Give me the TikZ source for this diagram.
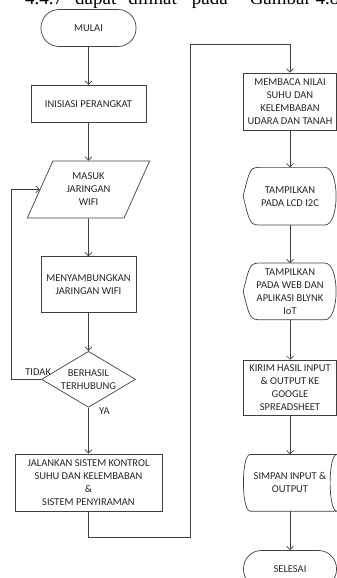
\documentclass[tikz,border=0pt]{standalone}
\usepackage{fontspec}
\setmainfont{Carlito}
\newfontfamily\captionfont{Liberation Serif}
\usetikzlibrary{positioning,shapes.geometric,arrows.meta}

\begin{document}
\begin{tikzpicture}[x=1pt, y=-1pt, node distance=38pt,
    box/.style={
        rectangle,
        draw=black!75, line width=0.7pt,
        text=black!85,
        font=\fontsize{10.5}{13}\selectfont,
        align=center,
        inner sep=2pt,
        minimum width=93pt,
        minimum height=56pt},
    terminal/.style={
        box,
        rounded corners=18pt,
        minimum height=37pt},
    inputbox/.style={
        box,
        trapezium,
        trapezium left angle=65,
        trapezium right angle=115,
        trapezium stretches=true,
        minimum width=123pt,
        minimum height=57pt},
    decision/.style={
        box,
        diamond,
        aspect=1.68,
        inner sep=0pt,
        minimum width=94pt,
        minimum height=56pt},
    shapebox/.style={
        box,
        draw=none},
    outline/.style={
        draw=black!75,
        line width=0.7pt},
    lbl/.style={
        text=black!85,
        font=\fontsize{10.5}{13}\selectfont},
    arrow/.style={
        draw=black!75,
        line width=0.7pt,
        -{Straight Barb[length=3.5pt,width=7pt]}}
    ]

    \useasboundingbox (0,0) rectangle (337,578);
    \clip (0,0) rectangle (337,578);

    \node (caption) [anchor=base west, inner sep=0pt, text=black,
        font=\captionfont\fontsize{19}{19}\selectfont] at (25,4.5)
        {4.4.7\hspace{12pt}dapat\hspace{12pt}dilihat\hspace{15pt}pada\hspace{22pt}Gambar 4.8};

    \node (mulai) [terminal, minimum width=95pt] at (88.5,28) {MULAI};
    \node (init) [box, minimum width=115pt, minimum height=37pt, below=of mulai] {INISIASI PERANGKAT};
    \node (wifi) [inputbox, below=of init] {MASUK\\JARINGAN\\WIFI};
    \node (sambung) [box, minimum width=95pt, below=of wifi] {MENYAMBUNGKAN\\JARINGAN WIFI};
    \node (cek) [decision, below=of sambung,
        label={[lbl, align=center]center:BERHASIL\\TERHUBUNG}] {};
    \node (jalan) [box, minimum width=147pt, minimum height=57pt, below=46pt of cek]
        {JALANKAN SISTEM KONTROL\\SUHU DAN KELEMBABAN\\\&\\SISTEM PENYIRAMAN};

    \node (membaca) [box, minimum height=57pt] at (290,101.5)
        {MEMBACA NILAI\\SUHU DAN\\KELEMBABAN\\UDARA DAN TANAH};
    \node (lcd) [shapebox, minimum height=57pt, below=37pt of membaca] {TAMPILKAN\\PADA LCD I2C};
    \node (web) [shapebox, below=of lcd] {TAMPILKAN\\PADA WEB DAN\\APLIKASI BLYNK\\IoT};
    \node (kirim) [box, minimum height=55pt, below=40pt of web]
        {KIRIM HASIL INPUT\\\& OUTPUT KE\\GOOGLE\\SPREADSHEET};
    \node (simpan) [shapebox, below=39pt of kirim] {SIMPAN INPUT \&\\OUTPUT};
    \node (selesai) [terminal, below=39pt of simpan] {SELESAI};

    \foreach \shp in {lcd,web}
        \draw [outline] ([xshift=19pt]\shp.north west) -- ([xshift=-12pt]\shp.north east)
            .. controls ([xshift=3pt]\shp.north east) and ([xshift=3pt]\shp.south east) .. ([xshift=-12pt]\shp.south east)
            -- ([xshift=19pt]\shp.south west)
            .. controls ([xshift=7pt]\shp.south west) .. (\shp.west)
            .. controls ([xshift=7pt]\shp.north west) .. cycle;
    \draw [outline] ([xshift=7pt]simpan.north west) -- (simpan.north east)
        .. controls ([xshift=-9pt]simpan.north east) and ([xshift=-9pt]simpan.south east) .. (simpan.south east)
        -- ([xshift=7pt]simpan.south west)
        .. controls ([xshift=-2pt]simpan.south west) and ([xshift=-2pt]simpan.north west) .. cycle;

    \coordinate (low) at (190,537);
    \coordinate (high) at (190,44);

    \draw [arrow] (mulai) -- (init);
    \draw [arrow] (init) -- (wifi);
    \draw [arrow] (wifi) -- (sambung);
    \draw [arrow] (sambung) -- (cek);
    \draw [arrow] (cek.west) -- node[lbl, above, pos=0.1] {TIDAK} ++(-30,0) |- (wifi.west);
    \draw [arrow] (cek.south) -- node[lbl, anchor=west, pos=0.07, xshift=7pt] {YA} (jalan.north);
    \draw [arrow] (jalan.south) |- (low) -- (high) -| (membaca.north);

    \draw [arrow] (membaca) -- (lcd);
    \draw [arrow] (lcd) -- (web);
    \draw [arrow] (web) -- (kirim);
    \draw [arrow] (kirim) -- (simpan);
    \draw [arrow] (simpan) -- (selesai);

\end{tikzpicture}
\end{document}
